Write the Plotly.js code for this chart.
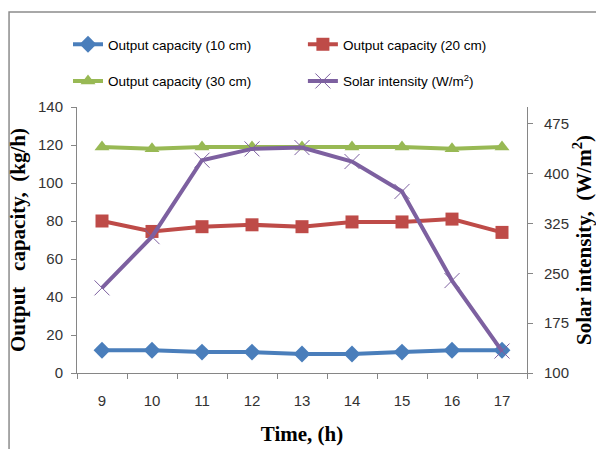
<!DOCTYPE html>
<html>
<head>
<meta charset="utf-8">
<script src="https://cdn.plot.ly/plotly-3.0.1.min.js"></script>
<style>html,body{margin:0;padding:0;background:#fff;}#chart{width:596px;height:449px;}</style>
</head>
<body>
<div id="chart"></div>
<script>
const hours = ["9","10","11","12","13","14","15","16","17"];
const cap10 = [12, 12, 11, 11, 10, 10, 11, 12, 12];
const cap20 = [80, 74.5, 77, 78, 77, 79.5, 79.5, 81, 74];
const cap30 = [119, 118, 119, 119, 119, 119, 119, 118, 119];
const solar = [228, 305, 420, 437, 439, 418, 373, 239, 133];
const names = ["Output capacity (10 cm)", "Output capacity (20 cm)", "Output capacity (30 cm)", "Solar intensity (W/m<sup>2</sup>)"];

const tickFont = {family: "Liberation Sans Narrow, Arial Narrow, Liberation Sans, sans-serif", size: 15, color: "#333"};
const titleFont = {family: "Liberation Serif, Times New Roman, serif", size: 21, color: "#000", weight: "bold"};
const legFont = {family: "Liberation Sans Narrow, Liberation Sans, Arial, sans-serif", size: 13.5, color: "#000"};

const traces = [
  {x: hours, y: cap10, name: names[0], type: "scatter", mode: "lines+markers", legend: "legend",
   line: {color: "#4a7ebb", width: 4}, marker: {symbol: "diamond", size: 13, color: "#4a7ebb"}},
  {x: hours, y: cap20, name: names[1], type: "scatter", mode: "lines+markers", legend: "legend2",
   line: {color: "#be4b48", width: 4}, marker: {symbol: "square", size: 13, color: "#be4b48"}},
  {x: hours, y: cap30, name: names[2], type: "scatter", mode: "lines+markers", legend: "legend3",
   line: {color: "#98b954", width: 4}, marker: {symbol: "triangle-up", size: 13, color: "#98b954"}},
  {x: hours, y: solar, name: names[3], type: "scatter", mode: "lines+markers", yaxis: "y2", legend: "legend4",
   line: {color: "#7d60a0", width: 4}, marker: {symbol: "x-thin-open", size: 15, line: {color: "#7d60a0", width: 1}, color: "#7d60a0"}}
];

function leg(xp, yp) {
  return {x: xp, y: yp, xanchor: "left", yanchor: "middle", bgcolor: "rgba(0,0,0,0)", font: legFont, borderwidth: 0};
}

const layout = {
  width: 596, height: 449,
  margin: {l: 77, r: 69, t: 107, b: 76},
  paper_bgcolor: "#fff", plot_bgcolor: "#fff",
  showlegend: true,
  legend: leg(-0.02, 1.235),
  legend2: leg(0.502, 1.235),
  legend3: leg(-0.02, 1.097),
  legend4: leg(0.502, 1.097),
  xaxis: {type: "category", range: [-0.5, 8.5], showgrid: false, zeroline: false,
    showline: true, linecolor: "#868686", linewidth: 1, ticks: "outside", tickson: "boundaries",
    ticklen: 5, tickcolor: "#868686", tickfont: tickFont, ticklabelstandoff: 14,
    title: {text: "Time, (h)", font: titleFont, standoff: 18}},
  yaxis: {range: [0, 140], dtick: 20, showgrid: false, zeroline: false,
    showline: true, linecolor: "#868686", linewidth: 1, ticks: "outside", ticklen: 5, tickcolor: "#868686",
    tickfont: tickFont, ticklabelstandoff: 5,
    title: {text: "Output\u00a0\u00a0 capacity,\u00a0 (kg/h)", font: titleFont, standoff: 6}},
  yaxis2: {overlaying: "y", side: "right", range: [100, 500], tick0: 100, dtick: 75,
    showgrid: false, zeroline: false, showline: true, linecolor: "#868686", linewidth: 1,
    ticks: "outside", ticklen: 5, tickcolor: "#868686", tickfont: tickFont, ticklabelstandoff: 8,
    title: {text: "Solar intensity,\u00a0 (W/m<sup>2</sup>)", font: titleFont, standoff: 12}},
  shapes: [{type: "rect", xref: "paper", yref: "paper", x0: -0.151, x1: 1.3, y0: -0.5, y1: 1.357,
    line: {color: "#8c8c8c", width: 1.5}, fillcolor: "rgba(0,0,0,0)", layer: "below"}]
};

Plotly.newPlot("chart", traces, layout, {displayModeBar: false, staticPlot: true});
</script>
</body>
</html>
